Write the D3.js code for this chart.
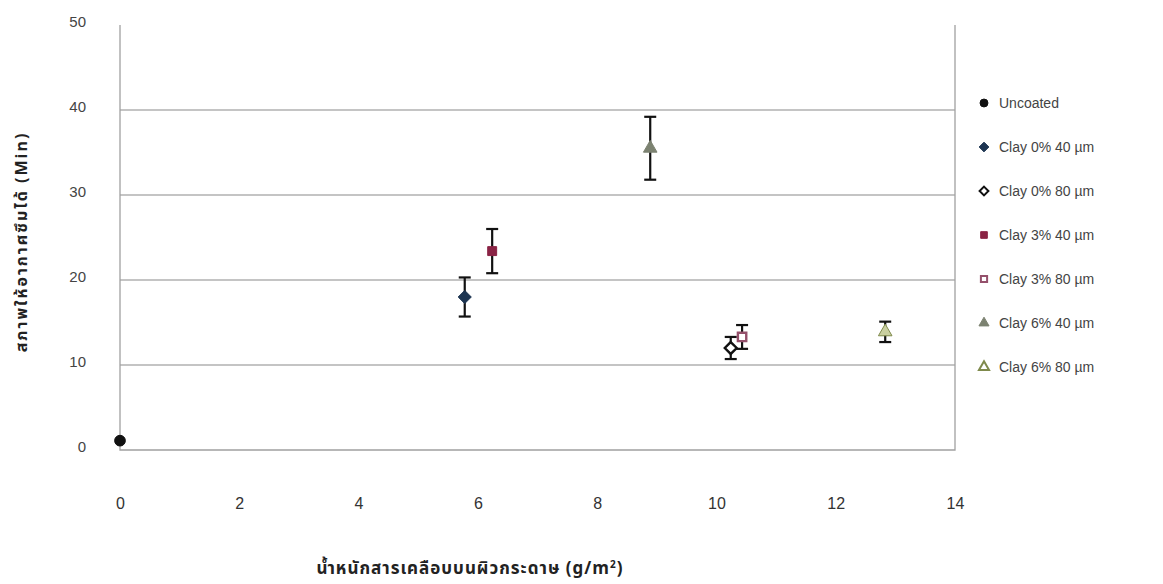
<!DOCTYPE html>
<meta charset="utf-8">
<script src="https://d3js.org/d3.v7.min.js"></script>
<style>
  body { margin: 0; background: #fff; }
  text { font-family: "Liberation Sans", Arial, sans-serif; }
  .thai { font-family: "Noto Sans Thai", "Noto Sans", "DejaVu Sans", sans-serif; font-weight: bold; }
</style>
<body>
<div id="chart"></div>
<script>

// data
var series = ["Uncoated", "Clay 0% 40 µm", "Clay 0% 80 µm", "Clay 3% 40 µm", "Clay 3% 80 µm", "Clay 6% 40 µm", "Clay 6% 80 µm"]
var xValues = [0, 5.78, 10.24, 6.24, 10.43, 8.89, 12.83]
var yValues = [1.1, 18.0, 12.0, 23.4, 13.3, 35.5, 13.9]
var errValues = [0, 2.3, 1.3, 2.6, 1.4, 3.7, 1.2]
var xTicks = [0, 2, 4, 6, 8, 10, 12, 14]
var yTicks = [0, 10, 20, 30, 40, 50]

// marker look per series
var shapes = [d3.symbolCircle, d3.symbolDiamond2, d3.symbolDiamond2, d3.symbolSquare, d3.symbolSquare, d3.symbolTriangle, d3.symbolTriangle]
var sizes = [90, 110, 90, 80, 70, 80, 80]
var fills = ["#111", "#1d3552", "#fff", "#8a2445", "#fff", "#7c8271", "#c9cfa0"]
var strokes = ["#111", "#1d3552", "#111", "#8a2445", "#94506b", "#7c8271", "#7f8a4c"]

var width = 1163, height = 584
var plotLeft = 120, plotRight = 955, plotTop = 25, plotBottom = 450

var svg = d3.select("#chart").append("svg")
  .attr("width", width)
  .attr("height", height)

var x = d3.scaleLinear().domain([0, 14]).range([plotLeft, plotRight])
var y = d3.scaleLinear().domain([0, 50]).range([plotBottom, plotTop])

// grid lines
svg.append("g")
  .selectAll("line")
  .data(yTicks.filter(function(d){ return d > 0 && d < 50 }))
  .enter().append("line")
    .attr("x1", plotLeft).attr("x2", plotRight)
    .attr("y1", function(d){ return y(d) }).attr("y2", function(d){ return y(d) })
    .attr("stroke", "#b0b0b0")
    .attr("stroke-width", 1.3)

// frame: left, right and bottom
svg.append("path")
  .attr("d", "M" + plotLeft + "," + plotTop + "V" + plotBottom + "H" + plotRight + "V" + plotTop)
  .attr("fill", "none")
  .attr("stroke", "#a0a0a0")
  .attr("stroke-width", 1.3)

// axes (labels only)
var yAxis = svg.append("g")
  .attr("transform", "translate(" + plotLeft + ",0)")
  .call(d3.axisLeft(y).tickValues(yTicks).tickSize(0).tickPadding(34))
yAxis.select(".domain").remove()
yAxis.selectAll("text").attr("font-size", 15).attr("fill", "#444")
  .attr("font-family", "Liberation Sans, Arial, sans-serif")
  .attr("dy", "0.1em")

var xAxis = svg.append("g")
  .attr("transform", "translate(0," + plotBottom + ")")
  .call(d3.axisBottom(x).tickValues(xTicks).tickSize(0).tickPadding(48))
xAxis.select(".domain").remove()
xAxis.selectAll("text").attr("font-size", 16).attr("fill", "#333")
  .attr("font-family", "Liberation Sans, Arial, sans-serif")

// axis titles
svg.append("text")
  .attr("class", "thai")
  .attr("transform", "translate(27,242) rotate(-90)")
  .attr("text-anchor", "middle")
  .attr("font-size", 16)
  .attr("letter-spacing", 2)
  .attr("fill", "#222")
  .text("สภาพให้อากาศซึมได้ (Min)")

var xt = svg.append("text")
  .attr("class", "thai")
  .attr("x", 470).attr("y", 574)
  .attr("text-anchor", "middle")
  .attr("font-size", 17)
  .attr("letter-spacing", 1)
  .attr("fill", "#222")
xt.append("tspan").text("น้ำหนักสารเคลือบบนผิวกระดาษ (g/m")
xt.append("tspan").attr("font-size", 10).attr("dy", -6).text("2")
xt.append("tspan").attr("dy", 6).text(")")

// points with error bars
var idx = d3.range(series.length)

var bars = svg.append("g")
  .selectAll("g")
  .data(idx.filter(function(i){ return errValues[i] > 0 }))
  .enter().append("g")
    .attr("stroke", "#111")
    .attr("stroke-width", 2.2)
bars.append("line")
  .attr("x1", function(i){ return x(xValues[i]) }).attr("x2", function(i){ return x(xValues[i]) })
  .attr("y1", function(i){ return y(yValues[i] - errValues[i]) })
  .attr("y2", function(i){ return y(yValues[i] + errValues[i]) })
bars.selectAll(".cap")
  .data(function(i){ return [[i, -1], [i, 1]] })
  .enter().append("line")
    .attr("x1", function(d){ return x(xValues[d[0]]) - 6 })
    .attr("x2", function(d){ return x(xValues[d[0]]) + 6 })
    .attr("y1", function(d){ return y(yValues[d[0]] + d[1] * errValues[d[0]]) })
    .attr("y2", function(d){ return y(yValues[d[0]] + d[1] * errValues[d[0]]) })

svg.append("g")
  .selectAll("path")
  .data(idx)
  .enter().append("path")
    .attr("transform", function(i){ return "translate(" + x(xValues[i]) + "," + y(yValues[i]) + ")" })
    .attr("d", function(i){ return d3.symbol().type(shapes[i]).size(sizes[i])() })
    .attr("fill", function(i){ return fills[i] })
    .attr("stroke", function(i){ return strokes[i] })
    .attr("stroke-width", function(i){ return fills[i] == "#fff" ? 2.4 : 1 })

// legend
var legend = svg.append("g")
  .selectAll("g")
  .data(idx)
  .enter().append("g")
    .attr("transform", function(i){ return "translate(984," + (103 + i * 44) + ")" })
legend.append("path")
  .attr("d", function(i){ return d3.symbol().type(shapes[i]).size(sizes[i] * 0.55)() })
  .attr("fill", function(i){ return i == 6 ? "#fff" : fills[i] })
  .attr("stroke", function(i){ return strokes[i] })
  .attr("stroke-width", function(i){ return fills[i] == "#fff" || i == 6 ? 2 : 1 })
legend.append("text")
  .attr("x", 15).attr("dy", "0.35em")
  .attr("font-size", 14)
  .attr("fill", "#444")
  .text(function(i){ return series[i] })

</script>
</body>
